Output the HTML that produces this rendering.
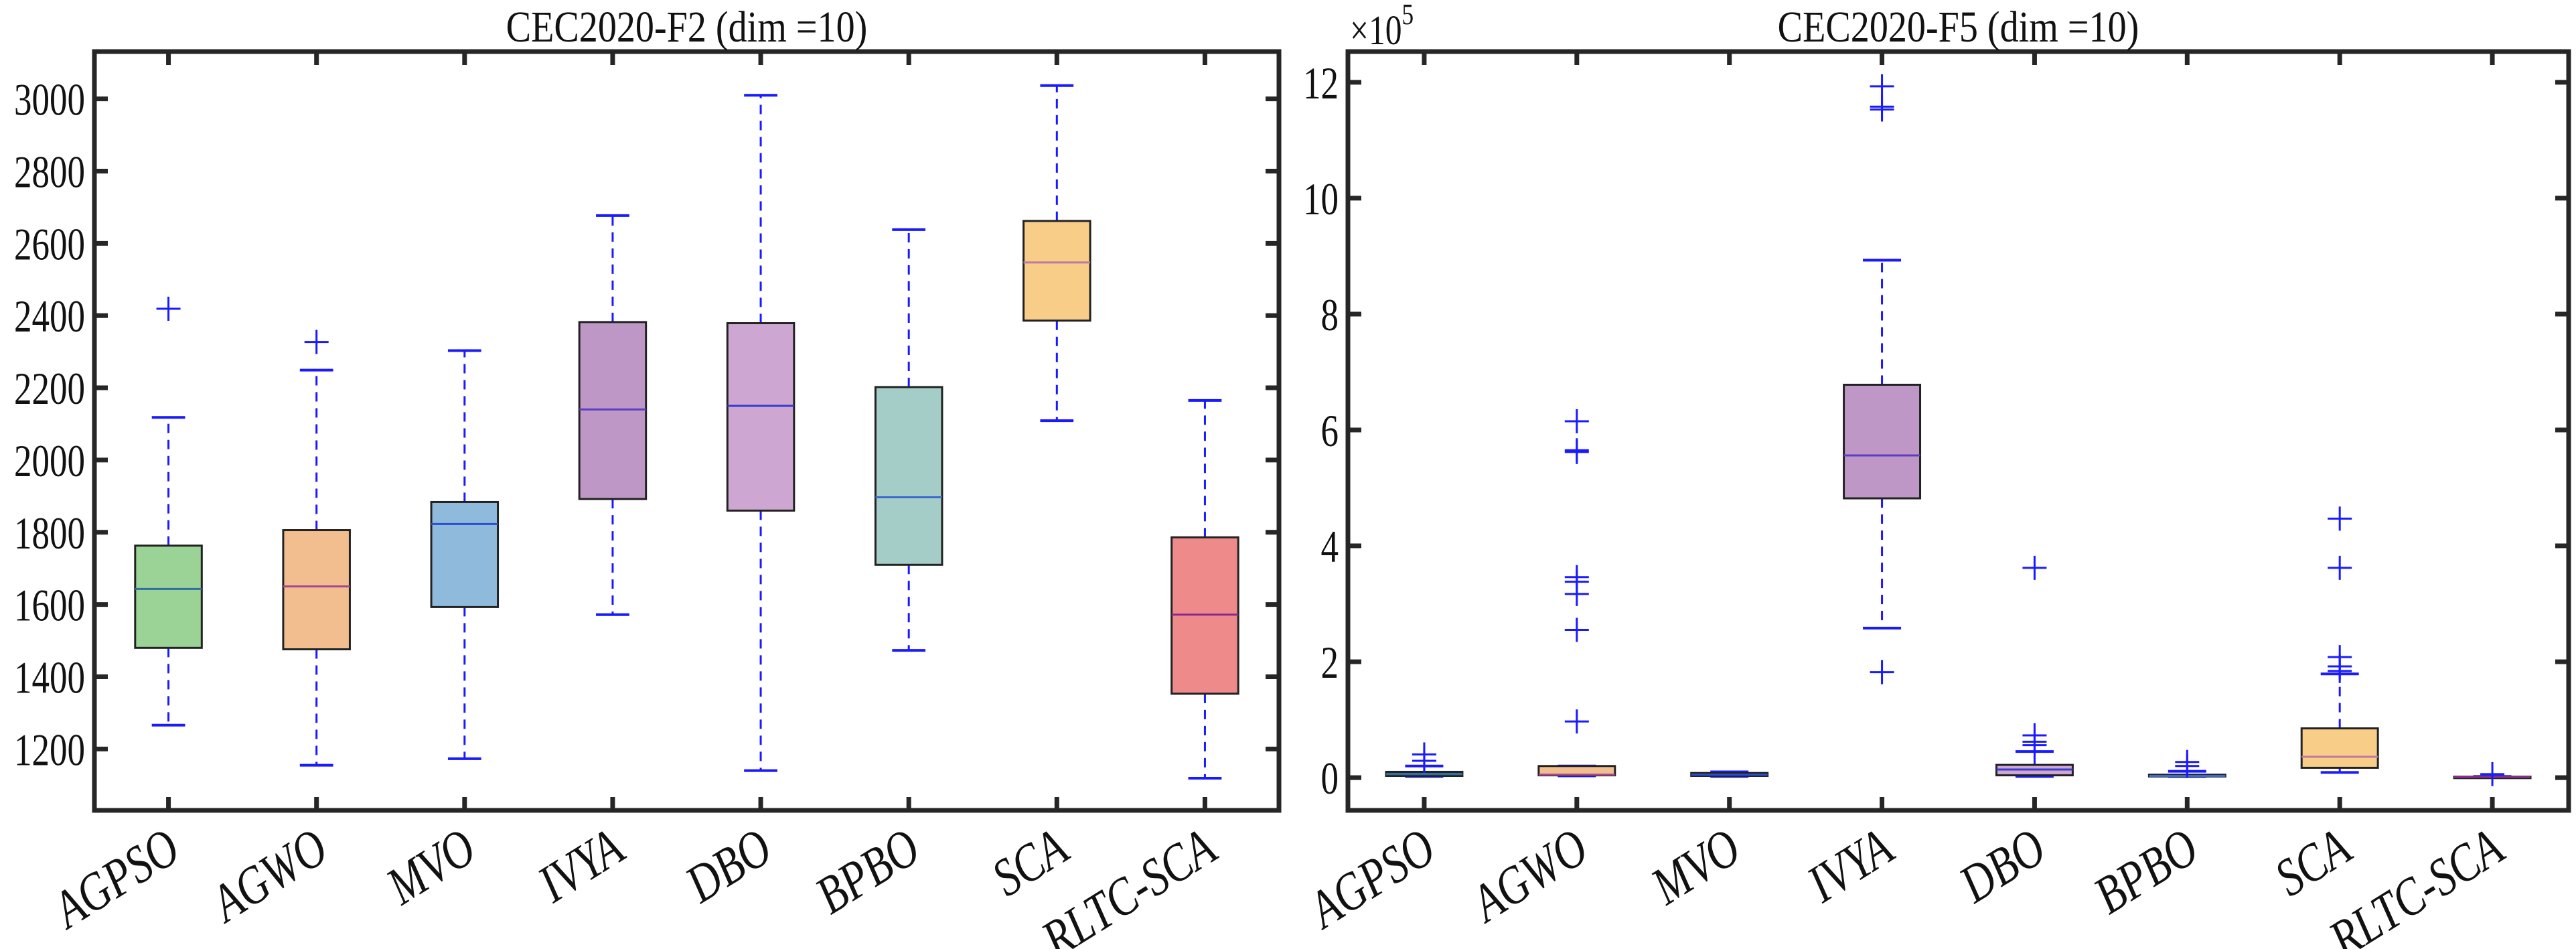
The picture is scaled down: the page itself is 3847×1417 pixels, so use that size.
<!DOCTYPE html>
<html><head><meta charset="utf-8"><style>
html,body{margin:0;padding:0;background:#fff;}
svg{display:block;font-family:"Liberation Serif",serif;}
</style></head><body>
<svg id="chart" width="3847" height="1417" viewBox="0 0 3847 1417" xmlns="http://www.w3.org/2000/svg">
<rect width="3847" height="1417" fill="#fff"/>
</svg>
<script>
const categories = ["AGPSO","AGWO","MVO","IVYA","DBO","BPBO","SCA","RLTC-SCA"];
const fills = ["#9bd296","#f2be90","#8fbadb","#be97c6","#cda7d1","#a5cdc7","#f7cd87","#ef8a8a"];
const medColors = ["#2f6fa0","#a04a8a","#2a4fd0","#5a3fc0","#3a3ad0","#3a6ad0","#c07aa0","#8a2a8a"];
// F2 data
const f2WhiskerLow = [1266,1155,1173,1572,1140,1473,2109,1119];
const f2Q1 = [1480,1476,1593,1892,1860,1710,2386,1353];
const f2Median = [1643,1650,1823,2140,2150,1897,2547,1572];
const f2Q3 = [1763,1806,1884,2382,2379,2202,2662,1786];
const f2WhiskerHigh = [2118,2249,2303,2677,3010,2638,3037,2165];
const f2Outliers = [[2419],[2327],[],[],[],[],[],[]];
const f2Ticks = [1200,1400,1600,1800,2000,2200,2400,2600,2800,3000];
// F5 data (x1e5)
const f5WhiskerLow = [0.02,0.03,0.02,2.58,0.02,0.02,0.09,0.005];
const f5Q1 = [0.03,0.04,0.03,4.82,0.04,0.02,0.17,0.008];
const f5Median = [0.06,0.05,0.05,5.56,0.14,0.03,0.36,0.01];
const f5Q3 = [0.10,0.20,0.08,6.78,0.22,0.05,0.85,0.015];
const f5WhiskerHigh = [0.20,0.20,0.10,8.93,0.45,0.11,1.79,0.02];
const f5Outliers = [[0.29,0.40],[0.97,2.55,3.17,3.38,3.46,5.62,5.65,6.15],[],[1.82,11.53,11.58,11.93],[0.56,0.62,0.73,3.62],[0.20,0.27],[1.84,1.92,2.08,3.62,4.47],[0.06]];
const f5Ticks = [0,2,4,6,8,10,12];

const NS="http://www.w3.org/2000/svg";
const svg=document.getElementById('chart');
function mk(tag,attrs,parent){const e=document.createElementNS(NS,tag);for(const k in attrs)e.setAttribute(k,attrs[k]);(parent||svg).appendChild(e);return e;}

function drawPanel(p){
  const g=mk('g',{});
  
  
  const X=i=>p.x0+(i+0.5)/8*(p.x1-p.x0);
  const Y=v=>p.y1-(v-p.ymin)/(p.ymax-p.ymin)*(p.y1-p.y0);
  const sp=(p.x1-p.x0)/8, bw=sp*p.bwFrac, cw=bw*0.5;
  for(let i=0;i<8;i++){
    const bg=mk('g',{},g);
    
    
    const cx=X(i);
    const wl=mk('line',{x1:cx,x2:cx,y1:Y(p.q3[i]),y2:Y(p.wh[i]),stroke:'#1a1aff','stroke-width':3,'stroke-dasharray':'14,10'},bg);
    
    const wl2=mk('line',{x1:cx,x2:cx,y1:Y(p.q1[i]),y2:Y(p.wlo[i]),stroke:'#1a1aff','stroke-width':3,'stroke-dasharray':'14,10'},bg);
    
    const c1=mk('line',{x1:cx-cw/2,x2:cx+cw/2,y1:Y(p.wh[i]),y2:Y(p.wh[i]),stroke:'#1a1aff','stroke-width':4},bg);
    
    const c2=mk('line',{x1:cx-cw/2,x2:cx+cw/2,y1:Y(p.wlo[i]),y2:Y(p.wlo[i]),stroke:'#1a1aff','stroke-width':4},bg);
    
    const r=mk('rect',{x:cx-bw/2,y:Y(p.q3[i]),width:bw,height:Math.max(2,Y(p.q1[i])-Y(p.q3[i])),fill:p.fills[i],stroke:'#222','stroke-width':3},bg);
    
    const m=mk('line',{x1:cx-bw/2,x2:cx+bw/2,y1:Y(p.med[i]),y2:Y(p.med[i]),stroke:medColors[i],'stroke-width':3},bg);
    
    p.out[i].forEach(v=>{
      const o=mk('path',{d:`M${cx-18},${Y(v)}h36M${cx},${Y(v)-18}v36`,stroke:'#1a1aff','stroke-width':3,fill:'none'},bg);
      
    });
  }
  const fr=mk('rect',{x:p.x0,y:p.y0,width:p.x1-p.x0,height:p.y1-p.y0,fill:'none',stroke:'#262626','stroke-width':7},g);
  
  for(let i=0;i<8;i++){
    const cx=X(i);
    mk('line',{x1:cx,x2:cx,y1:p.y1,y2:p.y1-20,stroke:'#262626','stroke-width':7},g);
    mk('line',{x1:cx,x2:cx,y1:p.y0,y2:p.y0+20,stroke:'#262626','stroke-width':7},g);
    const tx=cx+22, ty=p.y1+70;
    const t=mk('text',{x:0,y:0,'text-anchor':'end','font-size':80,'font-style':'italic',fill:'#111',transform:`translate(${tx} ${ty}) rotate(-32) scale(0.8 1)`},g);
    t.textContent=categories[i];
    
  }
  p.ticks.forEach(v=>{
    const y=Y(v);
    mk('line',{x1:p.x0,x2:p.x0+20,y1:y,y2:y,stroke:'#262626','stroke-width':7},g);
    mk('line',{x1:p.x1,x2:p.x1-20,y1:y,y2:y,stroke:'#262626','stroke-width':7},g);
    const t=mk('text',{x:0,y:0,'text-anchor':'end','font-size':68,fill:'#111',transform:`translate(${p.x0-14} ${y+24}) scale(0.78 1)`},g);
    t.textContent=v;
    
  });
  const tt=mk('text',{x:0,y:0,'text-anchor':'middle','font-size':66,fill:'#111',transform:`translate(${(p.x0+p.x1)/2} 62) scale(0.85 1)`},g);
  tt.textContent=p.title;
  
}

drawPanel({name:'panel-f2',x0:141,x1:1910,y0:77,y1:1210,ymin:1030,ymax:3131,bwFrac:0.45,fills:fills,
  wlo:f2WhiskerLow,q1:f2Q1,med:f2Median,q3:f2Q3,wh:f2WhiskerHigh,out:f2Outliers,ticks:f2Ticks,title:'CEC2020-F2 (dim =10)'});
const fills5=["#3a7a95",fills[1],"#41587e",fills[3],fills[4],"#3b4a8a",fills[6],fills[7]];
drawPanel({name:'panel-f5',x0:2013,x1:3836,y0:77,y1:1210,ymin:-0.565,ymax:12.53,bwFrac:0.5,fills:fills5,
  wlo:f5WhiskerLow,q1:f5Q1,med:f5Median,q3:f5Q3,wh:f5WhiskerHigh,out:f5Outliers,ticks:f5Ticks,title:'CEC2020-F5 (dim =10)'});
const ex=mk('text',{x:0,y:0,'font-size':62,fill:'#111',transform:'translate(2016 66) scale(0.8 1)'});


ex.innerHTML='×10<tspan dy="-30" font-size="44">5</tspan>';
</script>
</body></html>
